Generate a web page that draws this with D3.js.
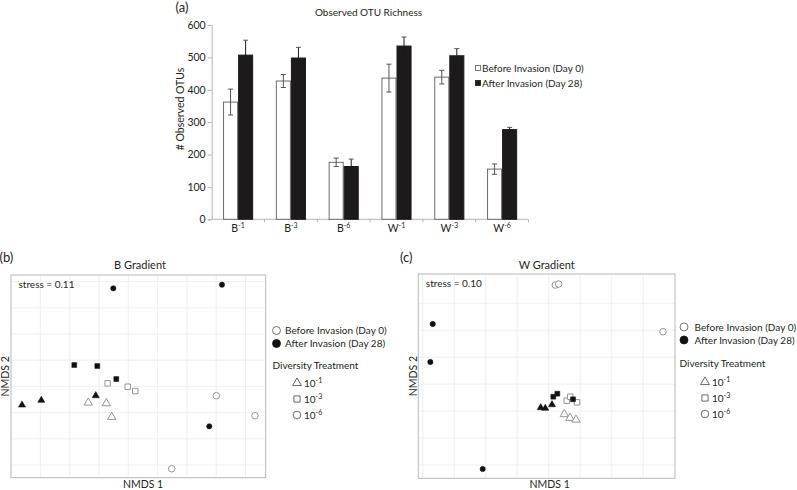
<!DOCTYPE html>
<html><head><meta charset="utf-8">
<script src="https://cdn.jsdelivr.net/npm/d3@7"></script>
<style>
body{margin:0;background:#fff}
svg{display:block}
text{font-family:Lato,"Open Sans",sans-serif;fill:#231f20}
</style>
</head><body>
<svg id="chart" width="797" height="490"></svg>
<script>
// ---------- Data ----------
const barCategories = ["B-1","B-3","B-6","W-1","W-3","W-6"];
const barSeries = ["Before Invasion (Day 0)","After Invasion (Day 28)"];
const beforeValues = [362,427,176,436,439,155];
const beforeErrors = [40,20,13,43,21,16];
const afterValues = [507,498,163,535,505,277];
const afterErrors = [46,33,23,28,22,7];
const barYTicks = [0,100,200,300,400,500,600];

// NMDS ordination points: [NMDS1, NMDS2, diversity treatment exponent]
const bBefore = [[0.1502,-0.0177,"-6"],[0.2162,-0.0559,"-6"],[0.0741,-0.1571,"-6"],
                 [-0.0352,0.0059,"-3"],[-0.0010,-0.0006,"-3"],[0.0119,-0.0088,"-3"],
                 [-0.0683,-0.0311,"-1"],[-0.0375,-0.0323,"-1"],[-0.0283,-0.0584,"-1"]];
const bAfter  = [[-0.0256,0.1872,"-6"],[0.1599,0.1941,"-6"],[0.1382,-0.0761,"-6"],
                 [-0.0922,0.0408,"-3"],[-0.0529,0.0389,"-3"],[-0.0205,0.0141,"-3"],
                 [-0.1814,-0.0355,"-1"],[-0.1485,-0.0265,"-1"],[-0.0556,-0.0177,"-1"]];
const wBefore = [[0.0105,0.1839,"-6"],[0.0159,0.1858,"-6"],[0.1814,0.0973,"-6"],
                 [0.0286,-0.0307,"-3"],[0.0343,-0.0233,"-3"],[0.0449,-0.0337,"-3"],
                 [0.0248,-0.0559,"-1"],[0.0338,-0.0628,"-1"],[0.0433,-0.0660,"-1"]];
const wAfter  = [[-0.1841,0.1116,"-6"],[-0.1879,0.0411,"-6"],[-0.1048,-0.1574,"-6"],
                 [0.0073,-0.0233,"-3"],[0.0137,-0.0177,"-3"],[0.0386,-0.0281,"-3"],
                 [-0.0127,-0.0437,"-1"],[-0.0054,-0.0448,"-1"],[0.0052,-0.0381,"-1"]];
const treatments = ["-1","-3","-6"];
const bStress = "stress = 0.11";
const wStress = "stress = 0.10";

// ---------- Bar chart (a) ----------
const svg = d3.select("#chart");
const gA = svg.append("g");
const x = d3.scaleBand().domain(barCategories).range([211.7,528.5]).paddingInner(0.43).paddingOuter(0.215);
const xs = d3.scaleBand().domain(barSeries).range([0, x.bandwidth()]);
const y = d3.scaleLinear().domain([0,600]).range([219.3,25]);

// axes
const yAxis = d3.axisLeft(y).tickValues(barYTicks).tickSize(4).tickPadding(2);
const yg = gA.append("g").attr("transform","translate(211.7,0)").call(yAxis);
yg.select(".domain").attr("stroke","#b5b5b5");
yg.selectAll(".tick line").attr("stroke","#b5b5b5");
yg.selectAll(".tick text").style("font-size","10.5px").attr("fill","#231f20");

gA.append("line").attr("x1",211.7).attr("x2",x.range()[1]).attr("y1",y(0)).attr("y2",y(0)).attr("stroke","#b5b5b5");
barCategories.forEach(c=>{
  const tx = x(c)+x.bandwidth()+x.step()*x.paddingInner()/2;
  gA.append("line").attr("x1",tx).attr("x2",tx).attr("y1",y(0)).attr("y2",y(0)+3).attr("stroke","#b5b5b5");
  const parts = c.split("-");
  const t = gA.append("text").attr("x",x(c)+x.bandwidth()/2).attr("y",231.5).attr("text-anchor","middle").style("font-size","10.5px");
  t.append("tspan").text(parts[0]);
  t.append("tspan").attr("dy",-3.5).style("font-size","7px").text("-"+parts[1]);
});

// bars
const barData = barCategories.map((c,i)=>[
  {c, s:barSeries[0], v:beforeValues[i], e:beforeErrors[i]},
  {c, s:barSeries[1], v:afterValues[i], e:afterErrors[i]}
]).flat();
gA.selectAll("rect.bar").data(barData).enter().append("rect")
  .attr("x",d=>x(d.c)+xs(d.s)+0.5).attr("y",d=>y(d.v))
  .attr("width",xs.bandwidth()-1).attr("height",d=>y(0)-y(d.v))
  .attr("fill",d=>d.s===barSeries[0]?"#ffffff":"#1c1a1b")
  .attr("stroke",d=>d.s===barSeries[0]?"#6b6b6b":"#1c1a1b").attr("stroke-width",1);
// error bars
const eg = gA.append("g").attr("stroke","#555").attr("stroke-width",1);
barData.forEach(d=>{
  const cx = x(d.c)+xs(d.s)+xs.bandwidth()/2;
  eg.append("line").attr("x1",cx).attr("x2",cx).attr("y1",y(d.v+d.e)).attr("y2",y(d.v-d.e))
    .attr("stroke",d.s===barSeries[0]?"#555":"#1c1a1b");
  eg.append("line").attr("x1",cx-2.5).attr("x2",cx+2.5).attr("y1",y(d.v+d.e)).attr("y2",y(d.v+d.e));
  if(d.s===barSeries[0]) eg.append("line").attr("x1",cx-2.5).attr("x2",cx+2.5).attr("y1",y(d.v-d.e)).attr("y2",y(d.v-d.e));
});

// titles & labels
gA.append("text").attr("x",368.5).attr("y",15.5).attr("text-anchor","middle").style("font-size","10px").text("Observed OTU Richness");
gA.append("text").attr("x",175.5).attr("y",11.5).style("font-size","13px").text("(a)");
gA.append("text").attr("transform","translate(184,109) rotate(-90)").attr("text-anchor","middle").style("font-size","10.5px").text("# Observed OTUs");
// legend
barSeries.forEach((s,i)=>{
  const ly = 68 + i*15;
  gA.append("rect").attr("x",475.5).attr("y",ly-2.5).attr("width",5).attr("height",5)
    .attr("fill",i===0?"#fff":"#1c1a1b").attr("stroke",i===0?"#555":"#1c1a1b").attr("stroke-width",0.8);
  gA.append("text").attr("x",482).attr("y",ly+3.6).style("font-size","10px").text(s);
});

// ---------- NMDS panels ----------
const shapeOf = {"-1":d3.symbolTriangle,"-3":d3.symbolSquare,"-6":d3.symbolCircle};
function drawPanel(cfg){
  const g = svg.append("g");
  const sx = d3.scaleLinear().domain(cfg.xDom).range(cfg.xRange);
  const sy = d3.scaleLinear().domain(cfg.yDom).range(cfg.yRange);
  // grid
  cfg.xGrid.forEach(v=>g.append("line").attr("x1",sx(v)).attr("x2",sx(v)).attr("y1",cfg.yRange[0]).attr("y2",cfg.yRange[1]).attr("stroke","#ececec").attr("stroke-width",0.8));
  cfg.yGrid.forEach(v=>g.append("line").attr("y1",sy(v)).attr("y2",sy(v)).attr("x1",cfg.xRange[0]).attr("x2",cfg.xRange[1]).attr("stroke","#ececec").attr("stroke-width",0.8));
  g.append("rect").attr("x",cfg.xRange[0]).attr("y",cfg.yRange[1]).attr("width",cfg.xRange[1]-cfg.xRange[0]).attr("height",cfg.yRange[0]-cfg.yRange[1])
    .attr("fill","none").attr("stroke","#b8b8b8").attr("stroke-width",1);
  // points: open (before) then filled (after)
  const openSize = {"-1":30,"-3":30,"-6":34};
  const fillSize = {"-1":22,"-3":24,"-6":22};
  g.selectAll("path.open").data(cfg.before).enter().append("path")
    .attr("transform",d=>`translate(${sx(d[0])},${sy(d[1])})`)
    .attr("d",d=>d3.symbol().type(shapeOf[d[2]]).size(openSize[d[2]])())
    .attr("fill","#fff").attr("stroke","#8a8a8a").attr("stroke-width",0.9);
  g.selectAll("path.fill").data(cfg.after).enter().append("path")
    .attr("transform",d=>`translate(${sx(d[0])},${sy(d[1])})`)
    .attr("d",d=>d3.symbol().type(shapeOf[d[2]]).size(fillSize[d[2]])())
    .attr("fill","#111").attr("stroke","#111").attr("stroke-width",0.5);
  // text
  g.append("text").attr("x",cfg.xRange[0]+7.5).attr("y",cfg.yRange[1]+12.5).style("font-size","10px").text(cfg.stress);
  g.append("text").attr("x",cfg.titleX).attr("y",269).attr("text-anchor","middle").style("font-size","11px").text(cfg.title);
  g.append("text").attr("x",cfg.tagX).attr("y",262).style("font-size","13px").text(cfg.tag);
  g.append("text").attr("x",cfg.titleX+3).attr("y",488).attr("text-anchor","middle").style("font-size","10.5px").text("NMDS 1");
  g.append("text").attr("transform",`translate(${cfg.nmds2X},${(cfg.yRange[0]+cfg.yRange[1])/2}) rotate(-90)`).attr("text-anchor","middle").style("font-size","10.5px").text("NMDS 2");
  // legend
  const L = cfg.legend;
  ["Before Invasion (Day 0)","After Invasion (Day 28)"].forEach((s,i)=>{
    const ly = L.y + i*13;
    g.append("path").attr("transform",`translate(${L.cx},${ly})`).attr("d",d3.symbol().type(d3.symbolCircle).size(50)())
      .attr("fill",i===0?"#fff":"#111").attr("stroke",i===0?"#555":"#111").attr("stroke-width",0.8);
    g.append("text").attr("x",L.tx).attr("y",ly+3.6).style("font-size","10px").text(s);
  });
  g.append("text").attr("x",L.dx).attr("y",L.dy).style("font-size","10px").text("Diversity Treatment");
  treatments.forEach((t,i)=>{
    const ly = L.sy + i*16;
    g.append("path").attr("transform",`translate(${L.scx},${ly})`).attr("d",d3.symbol().type(shapeOf[t]).size(t==="-1"?34:t==="-3"?38:46)())
      .attr("fill","#fff").attr("stroke","#444").attr("stroke-width",0.8);
    const tt = g.append("text").attr("x",L.scx+7).attr("y",ly+3.6).style("font-size","10px");
    tt.append("tspan").text("10");
    tt.append("tspan").attr("dy",-3.5).style("font-size","7px").text(t);
  });
}

drawPanel({
  xDom:[-0.2002,0.2345], yDom:[-0.1742,0.2126], xRange:[11,265.7], yRange:[477.7,275],
  xGrid:[-0.15,-0.1,-0.05,0,0.05,0.1,0.15,0.2], yGrid:[-0.15,-0.1,-0.05,0,0.05,0.1,0.15,0.2],
  before:bBefore, after:bAfter, stress:bStress, title:"B Gradient", titleX:140, tag:"(b)", tagX:-0.5, nmds2X:9,
  legend:{cx:276.5,y:330.5,tx:285,dx:272.5,dy:369,scx:297,sy:383}
});
drawPanel({
  xDom:[-0.207,0.2005], yDom:[-0.1747,0.2044], xRange:[418.3,675], yRange:[478.3,274],
  xGrid:[-0.2,-0.15,-0.1,-0.05,0,0.05,0.1,0.15], yGrid:[-0.15,-0.1,-0.05,0,0.05,0.1,0.15],
  before:wBefore, after:wAfter, stress:wStress, title:"W Gradient", titleX:546.7, tag:"(c)", tagX:400, nmds2X:417,
  legend:{cx:684,y:327,tx:694.5,dx:679.5,dy:366.5,scx:705,sy:382}
});
</script>
</body></html>
